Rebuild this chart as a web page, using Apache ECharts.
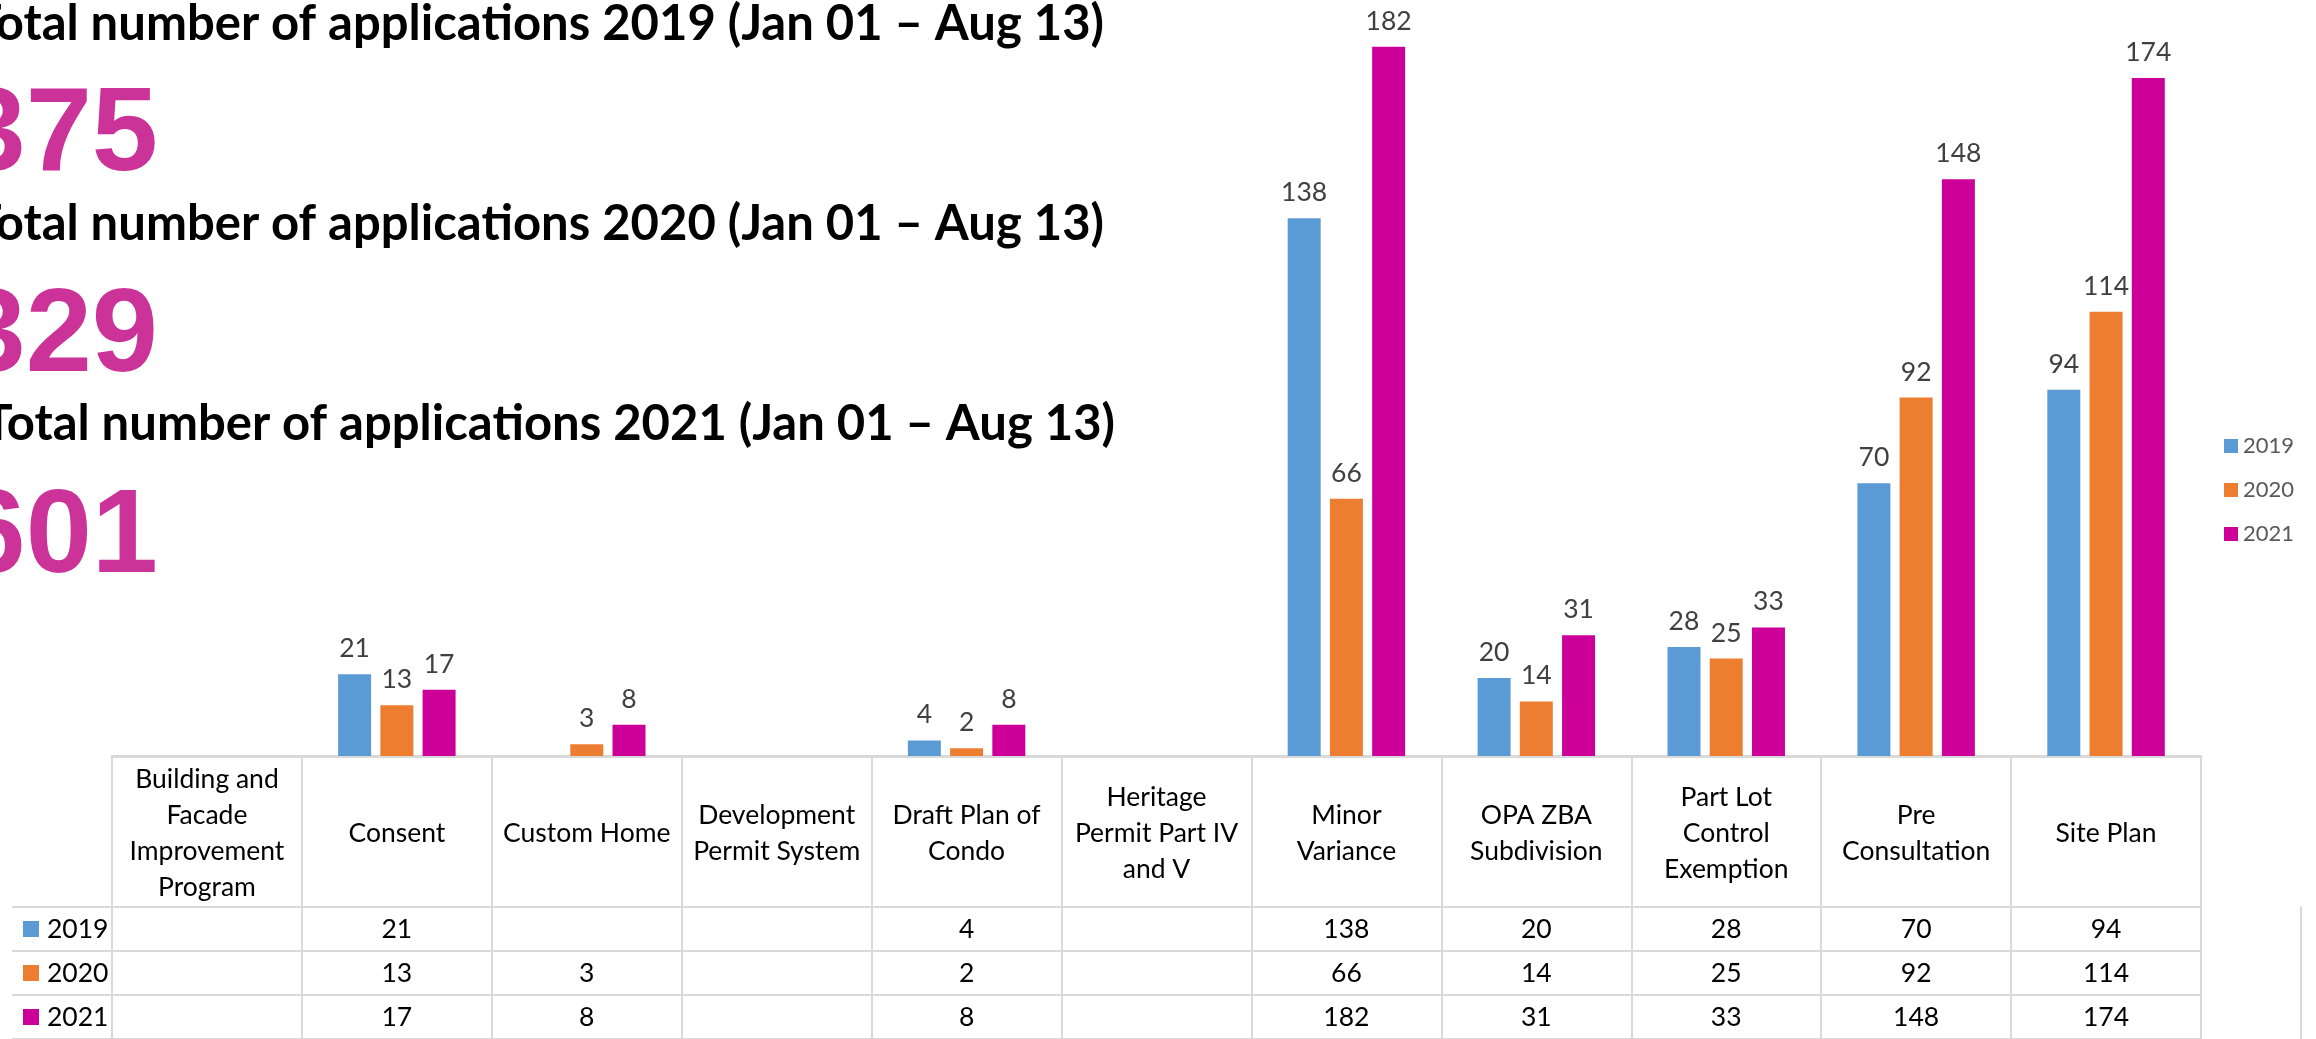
<!DOCTYPE html>
<html>
<head>
<meta charset="utf-8">
<script src="https://cdn.jsdelivr.net/npm/echarts/dist/echarts.min.js"></script>
<style>
  html, body { margin: 0; padding: 0; background: #fff; }
  #main { width: 2316px; height: 1039px; }
</style>
</head>
<body>
<div id="main"></div>
<script>
var categories = [
  "Building and\nFacade\nImprovement\nProgram",
  "Consent",
  "Custom Home",
  "Development\nPermit System",
  "Draft Plan of\nCondo",
  "Heritage\nPermit Part IV\nand V",
  "Minor\nVariance",
  "OPA ZBA\nSubdivision",
  "Part Lot\nControl\nExemption",
  "Pre\nConsultation",
  "Site Plan"
];
var years = ["2019", "2020", "2021"];
var v2019 = [null, 21, null, null, 4, null, 138, 20, 28, 70, 94];
var v2020 = [null, 13, 3, null, 2, null, 66, 14, 25, 92, 114];
var v2021 = [null, 17, 8, null, 8, null, 182, 31, 33, 148, 174];
var colors = ["#5B9BD5", "#ED7D31", "#CC0099"];

var rows = [v2019, v2020, v2021];
var totals = rows.map(function (r) {
  return r.reduce(function (s, v) { return s + (v || 0); }, 0);
});

// cells of the data table under the chart
var cells = [];
rows.forEach(function (r, ri) {
  r.forEach(function (v, ci) {
    if (v != null) cells.push([ci, ri, v]);
  });
});

var font = "Lato";
var gridLine = "#D9D9D9";
var tableSize = 26.5;
// right edge of each heading line (the slide is cut off on the left)
var headRight = [1104, 1104, 1115];

var myChart = echarts.init(document.getElementById("main"));

var headTexts = [];
var numTexts = [];
years.forEach(function (y, i) {
  headTexts.push({
    type: "text",
    right: 2316 - headRight[i],
    top: i * 200,
    style: {
      text: "Total number of applications " + y + " (Jan 01 \u2013 Aug 13)",
      fontFamily: font,
      fontWeight: "bold",
      fontSize: 49,
      fill: "#000"
    }
  });
  numTexts.push({
    type: "text",
    right: 2316 - 158,
    top: i * 201 + 78,
    style: {
      text: String(totals[i]),
      fontFamily: "Liberation Sans",
      fontWeight: "bold",
      fontSize: 119,
      fill: "#CC3399"
    }
  });
});

myChart.setOption({
  animation: false,
  color: colors,
  textStyle: { fontFamily: font },
  graphic: headTexts.concat(numTexts),
  legend: {
    orient: "vertical",
    left: 2219,
    top: 429,
    itemWidth: 14,
    itemHeight: 14,
    itemGap: 20,
    icon: "rect",
    data: years,
    textStyle: { fontSize: 22, color: "#595959", lineHeight: 24 }
  },
  grid: [
    { left: 112, width: 2089, top: 0, height: 756 },
    {
      left: 112, width: 2089, top: 907, height: 135,
      show: true, borderColor: gridLine, borderWidth: 2
    }
  ],
  xAxis: [
    {
      type: "category",
      gridIndex: 0,
      data: categories,
      axisLine: { lineStyle: { color: gridLine, width: 3 } },
      axisTick: { show: true, length: 151, alignWithLabel: false, interval: 0, lineStyle: { color: gridLine, width: 2 } },
      axisLabel: {
        interval: 0,
        margin: 77,
        verticalAlign: "middle",
        lineHeight: 36,
        fontSize: tableSize,
        color: "#000"
      }
    },
    {
      type: "category",
      gridIndex: 1,
      data: categories,
      axisLine: { show: false },
      axisTick: { show: false },
      axisLabel: { show: false },
      splitLine: { show: true, interval: 0, lineStyle: { color: gridLine, width: 2 } }
    }
  ],
  yAxis: [
    { type: "value", gridIndex: 0, min: 0, max: 194, show: false },
    {
      type: "category",
      gridIndex: 1,
      data: years,
      inverse: true,
      axisLine: { show: false },
      axisTick: { show: true, length: 100, alignWithLabel: false, interval: 0, lineStyle: { color: gridLine, width: 2 } },
      splitLine: { show: true, interval: 0, lineStyle: { color: gridLine, width: 2 } },
      axisLabel: {
        align: "left",
        margin: 89,
        formatter: function (v, i) {
          return "{k" + i + "|}{t|" + v + "}";
        },
        rich: {
          k0: { width: 16, height: 16, backgroundColor: colors[0] },
          k1: { width: 16, height: 16, backgroundColor: colors[1] },
          k2: { width: 16, height: 16, backgroundColor: colors[2] },
          t: { fontSize: tableSize, color: "#000", padding: [0, 0, 0, 8] }
        }
      }
    },
    {
      // outer left border of the row label column
      type: "category",
      gridIndex: 1,
      data: years,
      offset: 100,
      axisLine: { show: true, lineStyle: { color: gridLine, width: 2 } },
      axisTick: { show: false },
      axisLabel: { show: false }
    }
  ],
  series: [
    { name: "2019", data: v2019 },
    { name: "2020", data: v2020 },
    { name: "2021", data: v2021 }
  ].map(function (s) {
    return {
      name: s.name,
      type: "bar",
      xAxisIndex: 0,
      yAxisIndex: 0,
      barWidth: 33,
      barGap: "28%",
      data: s.data,
      label: {
        show: true,
        position: "top",
        distance: 12,
        fontSize: tableSize,
        color: "#404040"
      }
    };
  }).concat([
    {
      type: "custom",
      xAxisIndex: 1,
      yAxisIndex: 1,
      data: cells,
      encode: { x: 0, y: 1 },
      renderItem: function (params, api) {
        var p = api.coord([api.value(0), api.value(1)]);
        return {
          type: "text",
          x: p[0],
          y: p[1],
          style: {
            text: String(api.value(2)),
            align: "center",
            verticalAlign: "middle",
            fontFamily: font,
            fontSize: tableSize,
            fill: "#000"
          }
        };
      }
    }
  ])
});
</script>
</body>
</html>
